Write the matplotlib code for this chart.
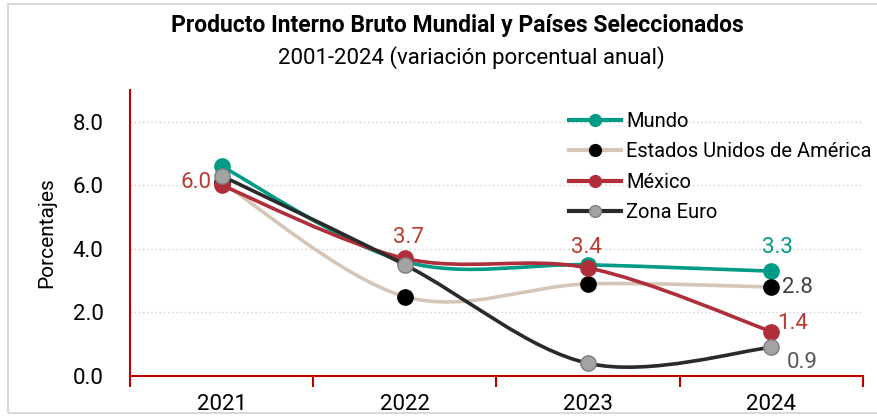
"""PIB mundial y países seleccionados, variación porcentual anual."""

import matplotlib

matplotlib.use("Agg")
import matplotlib.pyplot as plt
from matplotlib.lines import Line2D
from matplotlib.patches import PathPatch, Rectangle
from matplotlib.path import Path

plt.rcParams["font.family"] = ["Roboto", "DejaVu Sans"]

years = ["2021", "2022", "2023", "2024"]
mundo = [6.6, 3.6, 3.5, 3.3]
eua = [6.1, 2.5, 2.9, 2.8]
mexico = [6.0, 3.7, 3.4, 1.4]
zona_euro = [6.3, 3.5, 0.4, 0.9]

series_names = ["Mundo", "Estados Unidos de América", "México", "Zona Euro"]
y_ticks = [0.0, 2.0, 4.0, 6.0, 8.0]

TEAL = "#009B86"
BEIGE = "#D6C6B8"
RED = "#B02E3A"
LABEL_RED = "#B83A30"
DARK = "#2A2A2A"
GREY = "#A3A3A3"
AXIS_RED = "#C00000"


def smooth_path(xs, ys):
    """Catmull-Rom style bezier through the points (like Excel smoothed lines)."""
    pts = list(zip(xs, ys))
    verts = [pts[0]]
    codes = [Path.MOVETO]
    n = len(pts)
    for i in range(n - 1):
        p0 = pts[i - 1] if i > 0 else pts[i]
        p1 = pts[i]
        p2 = pts[i + 1]
        p3 = pts[i + 2] if i + 2 < n else pts[i + 1]
        c1 = (p1[0] + (p2[0] - p0[0]) / 6, p1[1] + (p2[1] - p0[1]) / 6)
        c2 = (p2[0] - (p3[0] - p1[0]) / 6, p2[1] - (p3[1] - p1[1]) / 6)
        verts += [c1, c2, p2]
        codes += [Path.CURVE4] * 3
    return Path(verts, codes)


fig = plt.figure(figsize=(8.77, 4.17), dpi=100)
ax = fig.add_axes([0.1482, 0.0983, 0.8358, 0.6859])

x = list(range(len(years)))
styles = [
    (mundo, TEAL, TEAL, TEAL, 3),
    (eua, BEIGE, "black", "black", 3),
    (mexico, RED, RED, RED, 4),
    (zona_euro, DARK, GREY, "#7F7F7F", 5),
]
handles = []
for (vals, lc, mc, mec, z), name in zip(styles, series_names):
    ax.add_patch(PathPatch(smooth_path(x, vals), facecolor="none", edgecolor=lc,
                           lw=2.6, zorder=z, capstyle="round"))
    ax.plot(x, vals, ls="none", marker="o", ms=11, color=mc, mec=mec, mew=1, zorder=z + 0.5)
    handles.append(Line2D([], [], color=lc, lw=3, marker="o", ms=8.5, mfc=mc, mec=mec, mew=1))

# etiquetas de datos
ax.annotate(f"{mexico[0]:.1f}", (x[0], mexico[0]), xytext=(-10, 3), textcoords="offset pixels",
            ha="right", va="center", fontsize=16, color=LABEL_RED)
ax.annotate(f"{mexico[1]:.1f}", (x[1], mexico[1]), xytext=(4, 21), textcoords="offset pixels",
            ha="center", va="center", fontsize=16, color=LABEL_RED)
ax.annotate(f"{mexico[2]:.1f}", (x[2], mexico[2]), xytext=(-2, 20), textcoords="offset pixels",
            ha="center", va="center", fontsize=16, color=LABEL_RED)
ax.annotate(f"{mundo[3]:.1f}", (x[3], mundo[3]), xytext=(6, 24), textcoords="offset pixels",
            ha="center", va="center", fontsize=16, color=TEAL)
ax.annotate(f"{eua[3]:.1f}", (x[3], eua[3]), xytext=(11, 0), textcoords="offset pixels",
            ha="left", va="center", fontsize=16, color="#404040")
ax.annotate(f"{mexico[3]:.1f}", (x[3], mexico[3]), xytext=(6, 8), textcoords="offset pixels",
            ha="left", va="center", fontsize=16, color=LABEL_RED)
ax.annotate(f"{zona_euro[3]:.1f}", (x[3], zona_euro[3]), xytext=(15, -15), textcoords="offset pixels",
            ha="left", va="center", fontsize=16, color="#595959")

ax.set_xlim(-0.5, len(years) - 0.5)
ax.set_ylim(0, 9)
ax.set_yticks(y_ticks)
ax.set_yticklabels([f"{t:.1f}" for t in y_ticks], fontsize=16)
ax.set_xticks(x)
ax.set_xticklabels(years, fontsize=16)
ax.set_xticks([i - 0.5 for i in range(len(years) + 1)], minor=True)
ax.tick_params(axis="x", which="major", length=0, pad=13)
ax.tick_params(axis="x", which="minor", length=8, width=1.5, color=AXIS_RED, direction="out")
ax.tick_params(axis="y", length=0, pad=19)
ax.set_ylabel("Porcentajes", fontsize=15, labelpad=12)

for t in y_ticks[1:]:
    ax.axhline(t, color="#D0D0D0", lw=1, ls=(0, (1, 2)), zorder=1)

for side in ("top", "right"):
    ax.spines[side].set_visible(False)
for side in ("left", "bottom"):
    ax.spines[side].set_color(AXIS_RED)
    ax.spines[side].set_linewidth(1.5)

ax.legend(handles, series_names, loc="upper left", bbox_to_anchor=(0.582, 0.965), frameon=False,
          fontsize=14.5, handlelength=2.6, handletextpad=0.25, labelspacing=0.56,
          borderaxespad=0.2)

fig.text(0.522, 0.94, "Producto Interno Bruto Mundial y Países Seleccionados",
         ha="center", va="center", fontsize=16.5, fontweight="bold")
fig.text(0.538, 0.861, "2001-2024 (variación porcentual anual)",
         ha="center", va="center", fontsize=16)

fig.patches.append(Rectangle((8 / 877, 4 / 417), 1.0, 409 / 417, transform=fig.transFigure,
                             facecolor="none", edgecolor="#D9D9D9", lw=1.5))

fig.savefig("out.png", dpi=100)
plt.close(fig)
